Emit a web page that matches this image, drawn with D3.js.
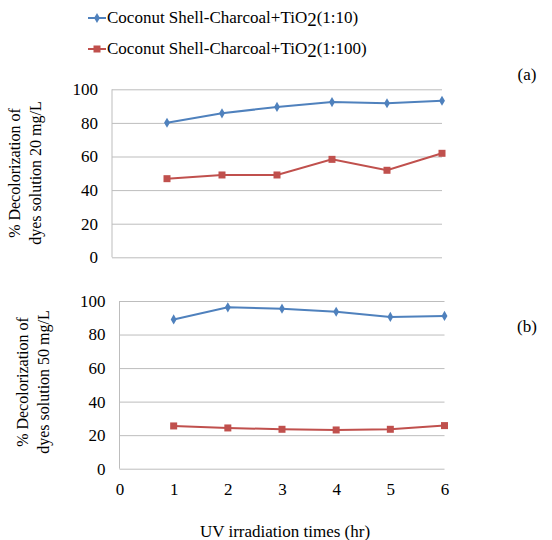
<!DOCTYPE html>
<html>
<meta charset="utf-8">
<style>
  body { margin: 0; background: #fff; }
  svg text { font-family: "Liberation Serif", "Times New Roman", serif; fill: #000; }
</style>
<body>
<svg width="552" height="540" font-family="Liberation Serif, serif"></svg>
<script src="https://cdn.jsdelivr.net/npm/d3@7"></script>
<script>
// data
let hours = [1, 2, 3, 4, 5, 6]
let xTicks = [0, 1, 2, 3, 4, 5, 6]
let yTicks = [0, 20, 40, 60, 80, 100]
let seriesNames = ['Coconut Shell-Charcoal+TiO', 'Coconut Shell-Charcoal+TiO']
let seriesRatios = ['(1:10)', '(1:100)']
let top10 = [80.1, 85.7, 89.5, 92.4, 91.7, 93.2]
let top100 = [46.8, 49.0, 49.0, 58.3, 51.8, 61.9]
let bot10 = [89.0, 96.2, 95.4, 93.6, 90.5, 91.1]
let bot100 = [25.5, 24.3, 23.5, 23.1, 23.5, 25.7]

let blue = '#4f81bd', red = '#c0504d', grid = '#bdbdbd'
let serif = 'Liberation Serif, serif'
let svg = d3.select('svg')

function panel(opt) {
  let x = d3.scaleLinear().domain([0, 6]).range(opt.xr)
  let y = d3.scaleLinear().domain([0, 100]).range(opt.yr)
  let g = svg.append('g')

  // grid + y labels
  let ya = g.append('g').attr('transform', `translate(${opt.xr[0]},0)`)
    .call(d3.axisLeft(y).tickValues(yTicks).tickFormat(d3.format('d'))
      .tickSize(-(opt.xr[1] - opt.xr[0])).tickPadding(14))
    .attr('font-family', serif).attr('font-size', 17)
  ya.select('.domain').remove()
  ya.selectAll('line').attr('stroke', grid)
  ya.selectAll('text').attr('fill', '#000')

  // left axis line
  g.append('line').attr('x1', opt.xr[0]).attr('x2', opt.xr[0])
    .attr('y1', y(0)).attr('y2', y(100)).attr('stroke', grid)

  if (opt.xlabels) {
    let xa = g.append('g').attr('transform', `translate(0,${y(0)})`)
      .call(d3.axisBottom(x).tickValues(xTicks).tickFormat(d3.format('d')).tickSize(0).tickPadding(14))
      .attr('font-family', serif).attr('font-size', 17)
    xa.select('.domain').remove()
    xa.selectAll('text').attr('fill', '#000')
  }

  let line = d3.line().x((d, i) => x(hours[i])).y(d => y(d))
  g.append('path').datum(opt.s1).attr('d', line).attr('fill', 'none').attr('stroke', blue).attr('stroke-width', 2)
  g.append('path').datum(opt.s2).attr('d', line).attr('fill', 'none').attr('stroke', red).attr('stroke-width', 2)
  g.selectAll('.dm').data(opt.s1).enter().append('path')
    .attr('d', d3.symbol().type(d3.symbolDiamond).size(30))
    .attr('transform', (d, i) => `translate(${x(hours[i])},${y(d)})`).attr('fill', blue)
  g.selectAll('.sq').data(opt.s2).enter().append('rect')
    .attr('x', (d, i) => x(hours[i]) - 3.5).attr('y', d => y(d) - 3.5)
    .attr('width', 7).attr('height', 7).attr('fill', red)

  // y title
  let t = g.append('text').attr('transform', `translate(${opt.tx},${opt.ty}) rotate(-90)`)
    .attr('text-anchor', 'middle').attr('font-size', 16)
  t.append('tspan').attr('x', 0).attr('dy', 0).text('% Decolorization of')
  t.append('tspan').attr('x', 0).attr('dy', 21).text(opt.title2)

  g.append('text').attr('x', 527).attr('y', opt.tagY).attr('text-anchor', 'middle')
    .attr('font-size', 17).text(opt.tag)
}

panel({ xr: [112, 442], yr: [257.3, 89.3], s1: top10, s2: top100, xlabels: false,
  tx: 20, ty: 173, title2: 'dyes solution 20 mg/L', tag: '(a)', tagY: 80 })
panel({ xr: [119.5, 444.5], yr: [468.7, 301], s1: bot10, s2: bot100, xlabels: true,
  tx: 28, ty: 382, title2: 'dyes solution 50 mg/L', tag: '(b)', tagY: 332 })

// x title
svg.append('text').attr('x', 285).attr('y', 537).attr('text-anchor', 'middle')
  .attr('font-size', 17).text('UV irradiation times (hr)')

// legend
let legY = [18, 49]
let legColors = [blue, red]
legY.forEach((ly, i) => {
  let lg = svg.append('g')
  lg.append('line').attr('x1', 88).attr('x2', 106).attr('y1', ly).attr('y2', ly)
    .attr('stroke', legColors[i]).attr('stroke-width', 2)
  if (i === 0) {
    lg.append('path').attr('d', d3.symbol().type(d3.symbolDiamond).size(30))
      .attr('transform', `translate(97,${ly})`).attr('fill', blue)
  } else {
    lg.append('rect').attr('x', 93.5).attr('y', ly - 3.5).attr('width', 7).attr('height', 7).attr('fill', red)
  }
  let tx = lg.append('text').attr('x', 107).attr('y', ly + 5).attr('font-size', 17)
  tx.append('tspan').text(seriesNames[i])
  tx.append('tspan').attr('dy', 3).attr('font-size', 19).text('2')
  tx.append('tspan').attr('dy', -3).text(seriesRatios[i])
})
</script>
</body>
</html>
